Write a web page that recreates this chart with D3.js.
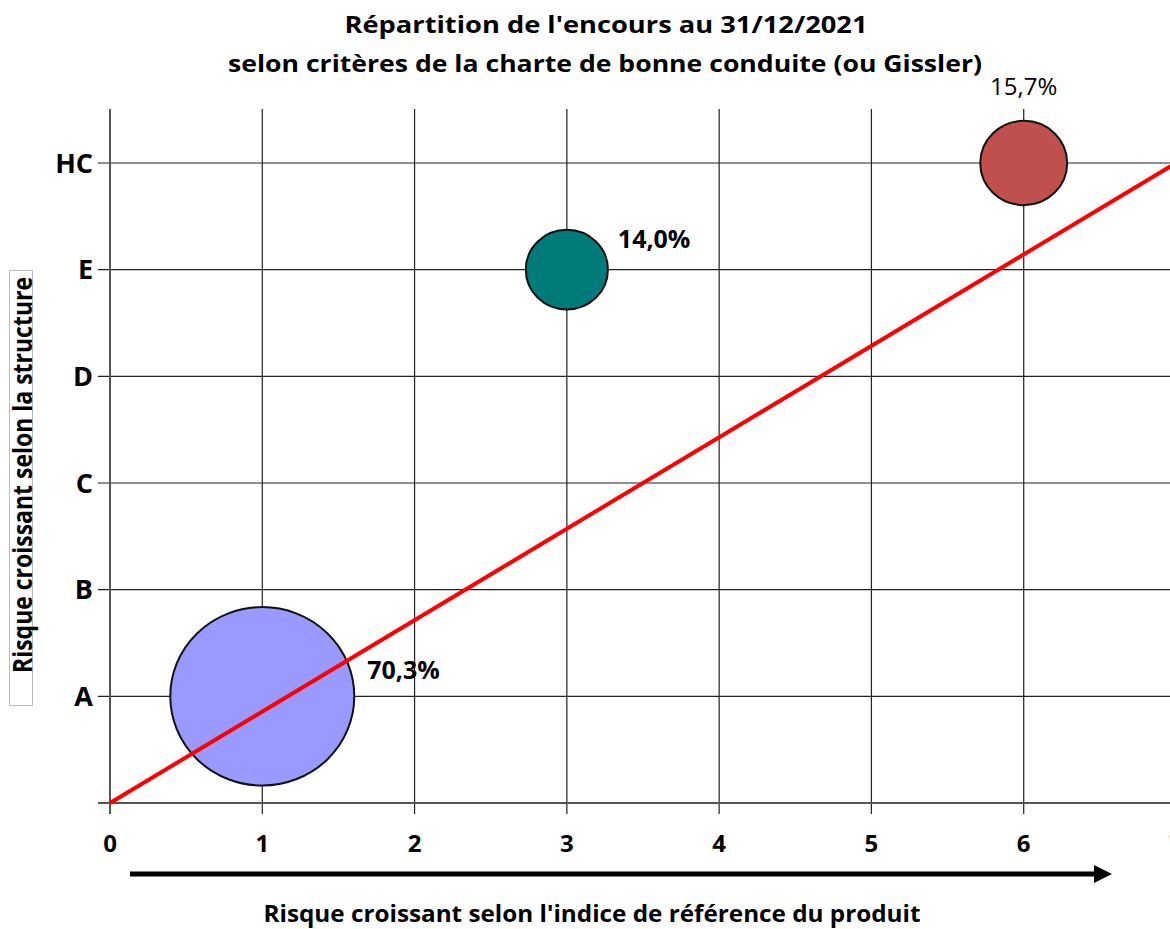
<!DOCTYPE html>
<html><head><meta charset="utf-8">
<script src="https://cdn.jsdelivr.net/npm/d3@7"></script>
<style>
html,body{margin:0;padding:0;background:#fff;overflow:hidden}
svg{display:block}
text{font-family:"Open Sans","Noto Sans",sans-serif;fill:#000}
</style></head><body>
<svg id="c" width="1170" height="929"></svg>
<script>
const titleLines = ["Répartition de l'encours au 31/12/2021", "selon critères de la charte de bonne conduite (ou Gissler)"];
const xTicks = [0,1,2,3,4,5,6,7];
const yTickLabels = ["A","B","C","D","E","HC"];
const bubbleX = [1,3,6];
const bubbleY = ["A","E","HC"];
const bubbleValues = [70.3,14.0,15.7];
const bubbleLabels = ["70,3%","14,0%","15,7%"];
const bubbleColors = ["#9999ff","#007b7a","#c0504d"];
const trendLine = [[0,0],[7,6]];
const xTitle = "Risque croissant selon l'indice de référence du produit";
const yTitle = "Risque croissant selon la structure";

const svg = d3.select("#c");
const x = d3.scaleLinear().domain([0,7]).range([110,1176]);
const y = d3.scaleLinear().domain([0,6]).range([803,163]);
const yCat = c => y(yTickLabels.indexOf(c)+1);
const r = d3.scaleSqrt().domain([0,70.3]).range([0,92]);

// grid verticals
svg.append("g").selectAll("line").data(xTicks.slice(1)).join("line")
  .attr("x1",d=>x(d)).attr("x2",d=>x(d)).attr("y1",109).attr("y2",814)
  .attr("stroke","#222").attr("stroke-width",1.2);
// grid horizontals
svg.append("g").selectAll("line").data(d3.range(1,7)).join("line")
  .attr("x1",98).attr("x2",1170).attr("y1",d=>y(d)).attr("y2",d=>y(d))
  .attr("stroke","#222").attr("stroke-width",1.2);
// axes
svg.append("line").attr("x1",x(0)).attr("x2",x(0)).attr("y1",109).attr("y2",814)
  .attr("stroke","#555").attr("stroke-width",2);
svg.append("line").attr("x1",98).attr("x2",1170).attr("y1",y(0)).attr("y2",y(0))
  .attr("stroke","#555").attr("stroke-width",2);

// bubbles
const bub = bubbleX.map((bx,i)=>({x:bx,y:bubbleY[i],v:bubbleValues[i],c:bubbleColors[i],l:bubbleLabels[i]}));
svg.append("g").selectAll("ellipse").data(bub).join("ellipse")
  .attr("cx",d=>x(d.x)).attr("cy",d=>yCat(d.y))
  .attr("rx",d=>r(d.v)).attr("ry",d=>r(d.v)*0.97)
  .attr("fill",d=>d.c).attr("stroke","#111").attr("stroke-width",2);

// trend line
svg.append("path").datum(trendLine)
  .attr("d",d3.line().x(d=>x(d[0])).y(d=>y(d[1])))
  .attr("stroke","#ff0000").attr("stroke-width",4).attr("fill","none");

// bubble labels
const lab = svg.append("g");
lab.append("text").attr("x",x(bub[0].x)+105).attr("y",yCat(bub[0].y)-17)
  .attr("font-size",25).attr("font-weight","bold").text(bub[0].l);
lab.append("text").attr("x",x(bub[1].x)+51).attr("y",yCat(bub[1].y)-22)
  .attr("font-size",25).attr("font-weight","bold").text(bub[1].l);
lab.append("text").attr("x",x(bub[2].x)).attr("y",yCat(bub[2].y)-68)
  .attr("text-anchor","middle").attr("font-size",24).text(bub[2].l);

// x tick labels
svg.append("g").selectAll("text").data(xTicks).join("text")
  .attr("x",d=>x(d)).attr("y",852).attr("text-anchor","middle")
  .attr("font-size",24).attr("font-weight","bold").text(d=>d);
// y tick labels
svg.append("g").selectAll("text").data(yTickLabels).join("text")
  .attr("x",93).attr("y",d=>yCat(d)).attr("dy","0.36em").attr("text-anchor","end")
  .attr("font-size",27).attr("font-weight","bold").text(d=>d);

// titles
svg.append("text").attr("x",606).attr("y",33).attr("text-anchor","middle")
  .attr("font-size",24).attr("font-weight","bold")
  .attr("textLength",523).attr("lengthAdjust","spacingAndGlyphs").text(titleLines[0]);
svg.append("text").attr("x",605).attr("y",72).attr("text-anchor","middle")
  .attr("font-size",24).attr("font-weight","bold")
  .attr("textLength",754).attr("lengthAdjust","spacingAndGlyphs").text(titleLines[1]);

// x title + arrow
svg.append("line").attr("x1",130).attr("x2",1096).attr("y1",874).attr("y2",874)
  .attr("stroke","#000").attr("stroke-width",5);
svg.append("path").attr("d","M1094,865 L1112,874 L1094,883 Z").attr("fill","#000");
svg.append("text").attr("x",592).attr("y",922).attr("text-anchor","middle")
  .attr("font-size",23).attr("font-weight","bold")
  .attr("textLength",657).attr("lengthAdjust","spacingAndGlyphs").text(xTitle);

// y title
svg.append("rect").attr("x",9.5).attr("y",270.5).attr("width",23).attr("height",435)
  .attr("fill","none").attr("stroke","#bbb").attr("stroke-width",1);
svg.append("text").attr("transform","translate(32,475) rotate(-90)")
  .attr("text-anchor","middle").attr("font-size",27).attr("font-weight","bold")
  .attr("textLength",396).attr("lengthAdjust","spacingAndGlyphs").text(yTitle);
</script>
</body></html>
